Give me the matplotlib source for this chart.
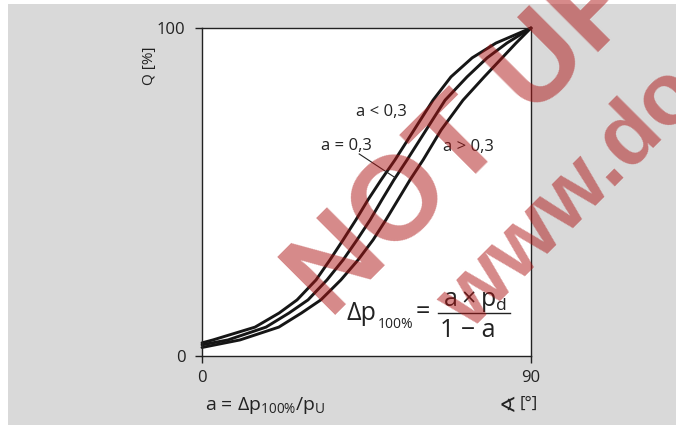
import matplotlib
matplotlib.use("Agg")
import matplotlib.pyplot as plt
from matplotlib.patches import Rectangle

plt.rcParams['font.family'] = ['Open Sans', 'DejaVu Sans']
plt.rcParams['mathtext.fontset'] = 'custom'
plt.rcParams['mathtext.rm'] = 'Open Sans'
plt.rcParams['mathtext.it'] = 'Open Sans'

# valve characteristic curves (opening angle in deg, Q in %)
angle_lt = [0, 3.0, 14.5, 21.1, 26.0, 31.2, 35.0, 38.6, 42.1, 45.4, 49.0, 52.8, 58.0, 63.2,
            68.1, 73.9, 80.4, 90]
q_lt = [4.0, 4.9, 8.8, 13.1, 17.1, 23.2, 29.3, 35.4, 41.5, 47.6, 53.7, 59.8, 68.9, 78.0,
        85.1, 90.9, 95.4, 100]

angle_eq = [0, 7.1, 17.5, 23.8, 29.0, 34.2, 38.6, 42.4, 46.0, 49.2, 52.5, 56.1, 61.3, 66.5,
            72.5, 78.0, 83.4, 90]
q_eq = [3.4, 4.9, 8.8, 13.1, 17.1, 23.2, 29.3, 35.4, 41.5, 47.6, 53.7, 59.8, 68.9, 78.0,
        85.1, 90.9, 95.4, 100]

angle_gt = [0, 10.4, 21.0, 27.2, 32.5, 38.0, 42.7, 46.8, 50.3, 53.6, 56.9, 60.5, 65.4, 71.4,
            77.2, 82.1, 85.9, 90]
q_gt = [2.6, 4.9, 8.8, 13.1, 17.1, 23.2, 29.3, 35.4, 41.5, 47.6, 53.7, 59.8, 68.9, 78.0,
        85.1, 90.9, 95.4, 100]

curve_labels = ['a < 0,3', 'a = 0,3', 'a > 0,3']
x_ticks = [0, 90]
y_ticks = [0, 100]

W, H = 676, 425
ink = '#222222'
fig = plt.figure(figsize=(W / 100, H / 100), dpi=100, facecolor='white')
fig.patches.append(Rectangle((8 / W, 0), 1 - 8 / W, 1 - 4 / H, transform=fig.transFigure,
                             facecolor='#d9d9d9', edgecolor='none', zorder=-1))

ax = fig.add_axes([202 / W, 1 - 356 / H, 329 / W, 328 / H])
ax.set_facecolor('white')

for xs, ys in [(angle_lt, q_lt), (angle_eq, q_eq), (angle_gt, q_gt)]:
    ax.plot(xs, ys, color='#161616', lw=2.1, solid_joinstyle='round', solid_capstyle='round',
            clip_on=False)

ax.set_xlim(0, 90)
ax.set_ylim(0, 100)
ax.set_xticks(x_ticks)
ax.set_yticks(y_ticks)
ax.tick_params(direction='out', length=5, width=1, labelsize=12, colors=ink)
ax.tick_params(axis='y', pad=7)
ax.tick_params(axis='x', pad=5)
for sp in ax.spines.values():
    sp.set_linewidth(1)
    sp.set_color(ink)

# curve labels
ax.text(49.2, 74.4, curve_labels[0], fontsize=12, ha='center', va='center', color=ink)
ax.text(39.4, 64.0, curve_labels[1], fontsize=12, ha='center', va='center', color=ink)
ax.text(73.0, 63.7, curve_labels[2], fontsize=12, ha='center', va='center', color=ink)
ax.plot([43.0, 52.8], [61.6, 54.4], color=ink, lw=0.8)

# formula  dp100% = a x pd / (1 - a)
ax.text(39.6, 11.0, 'Δp', fontsize=18, ha='left', va='baseline', color=ink)
ax.text(48.1, 8.4, '100%', fontsize=10, ha='left', va='baseline', color=ink)
ax.text(60.3, 13.3, '=', fontsize=18, ha='center', va='center', color=ink)
ax.plot([64.6, 84.2], [13.1, 13.1], color=ink, lw=1)
ax.text(74.7, 15.2, r'$\mathregular{a \times p_d}$', fontsize=18, ha='center', va='baseline',
        color=ink)
ax.text(72.8, 5.8, '1 − a', fontsize=18, ha='center', va='baseline', color=ink)

# axis labels
fig.text(150 / W, 1 - 66 / H, 'Q [%]', rotation=90, fontsize=11, ha='center', va='center',
         color=ink)
fig.text(205 / W, 1 - 405 / H, r'a = Δp$_{\mathregular{100\%}}$/p$_{\mathregular{U}}$',
         fontsize=14, ha='left', va='center', color=ink)
fig.text(507 / W, 1 - 406 / H, '∢', fontsize=15, ha='center', va='center', color=ink,
         family=['DejaVu Sans'])
fig.text(538 / W, 1 - 404 / H, '[°]', fontsize=12, ha='right', va='center', color=ink)

# watermark
fig.text(330 / W, 1 - 320 / H, 'NOT UP', fontsize=86, fontweight='bold', family=['Liberation Sans'],
         rotation=45, rotation_mode='anchor', ha='left', va='baseline',
         color=(0.68, 0.08, 0.08), alpha=0.5, zorder=5)
fig.text(470 / W, 1 - 332 / H, 'www.do', fontsize=63, fontweight='bold', family=['Liberation Sans'],
         rotation=45, rotation_mode='anchor', ha='left', va='baseline',
         color=(0.68, 0.08, 0.08), alpha=0.5, zorder=5)

fig.savefig('out.png', dpi=100, facecolor=fig.get_facecolor())
